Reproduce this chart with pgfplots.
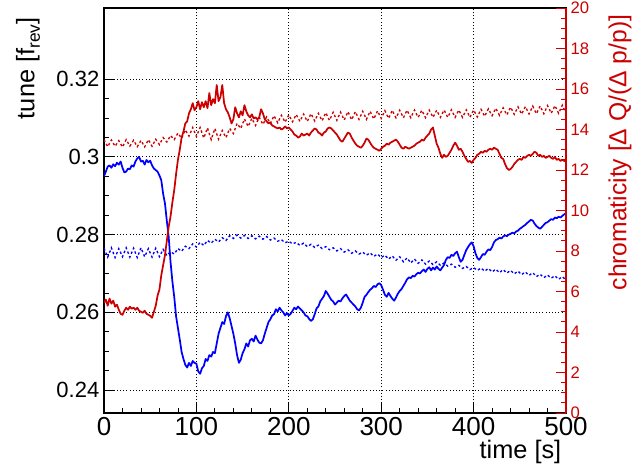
\documentclass[border=0pt]{standalone}
\usepackage{fontspec}
\setmainfont{Liberation Sans}
\usepackage{pgfplots}
\pgfplotsset{compat=1.18}
\definecolor{rootred}{RGB}{204,0,0}
\definecolor{rootblue}{RGB}{0,0,255}
\begin{document}
\begin{tikzpicture}
\begin{axis}[
  scale only axis, width=346.5pt, height=303.75pt,
  xmin=0, xmax=500, ymin=0.2341, ymax=0.3383,
  axis line style={line width=0.8pt},
  xtick={0,100,200,300,400,500}, minor x tick num=4,
  ytick={0.24,0.26,0.28,0.3,0.32}, minor y tick num=3,
  xtick pos=bottom, ytick pos=left,
  tick align=inside,
  major tick length=7.5pt, minor tick length=3.75pt,
  tick style={black, line width=0.6pt},
  scaled y ticks=false,
  /pgf/number format/assume math mode=true,
  yticklabel style={font=\fontsize{16.5}{18}\selectfont, /pgf/number format/fixed, /pgf/number format/precision=2},
  xticklabel style={font=\fontsize{19.5}{21}\selectfont},
  grid=major,
  major grid style={black, line width=0.6pt, dash pattern=on 0.8pt off 1.6pt},
  xlabel={time [s]},
  every axis x label/.style={at={(axis description cs:1,-0.113)}, anchor=base east, font=\fontsize{19}{21}\selectfont},
  ylabel={tune [f\raisebox{-0.4ex}{\fontsize{13}{13}\selectfont rev}]},
  every axis y label/.style={at={(axis description cs:-0.1645,0.988)}, anchor=east, rotate=90, font=\fontsize{19}{21}\selectfont},
]
% dotted tune
\addplot[rootblue, line width=1pt, dash pattern=on 1.8pt off 1.8pt] coordinates {
(0,0.2765)(4,0.2742)(8,0.2766)(12,0.2741)(16,0.2764)(20,0.2743)(24,0.2766)(28,0.2742)(32,0.2765)(36,0.2741)
(40,0.2766)(44,0.2743)(48,0.2764)(52,0.2742)(56,0.2765)(60,0.2743)(64,0.2762)(68,0.2746)(72,0.2756)(76,0.2750)
(80,0.2764)(84,0.2757)(88,0.2770)(92,0.2764)(96,0.2776)(100,0.2768)(104,0.2780)(108,0.2772)(112,0.2785)(116,0.2778)
(120,0.2788)(124,0.2781)(128,0.2792)(132,0.2785)(136,0.2797)(140,0.2790)(144,0.2799)(148,0.2791)(152,0.2798)(156,0.2790)
(160,0.2797)(164,0.2789)(168,0.2796)(172,0.2788)(176,0.2795)(180,0.2786)(184,0.2791)(188,0.2783)(192,0.2787)(196,0.2779)
(200,0.2783)(204,0.2776)(208,0.2780)(212,0.2772)(216,0.2778)(220,0.2769)(224,0.2775)(228,0.2767)(232,0.2773)(236,0.2764)
(240,0.2769)(244,0.2761)(248,0.2766)(252,0.2758)(256,0.2764)(260,0.2755)(264,0.2761)(268,0.2752)(272,0.2758)(276,0.2750)
(280,0.2755)(284,0.2747)(288,0.2753)(292,0.2744)(296,0.2750)(300,0.2741)(304,0.2747)(308,0.2737)(312,0.2745)(316,0.2734)
(320,0.2743)(324,0.2730)(328,0.2740)(332,0.2727)(336,0.2737)(340,0.2726)(344,0.2735)(348,0.2724)(352,0.2732)(356,0.2723)
(360,0.2730)(364,0.2721)(368,0.2727)(372,0.2719)(376,0.2724)(380,0.2716)(384,0.2721)(388,0.2713)(392,0.2718)(396,0.2710)
(400,0.2715)(404,0.2708)(408,0.2714)(412,0.2706)(416,0.2713)(420,0.2704)(424,0.2711)(428,0.2702)(432,0.2710)(436,0.2701)
(440,0.2708)(444,0.2699)(448,0.2706)(452,0.2697)(456,0.2704)(460,0.2695)(464,0.2702)(468,0.2692)(472,0.2698)(476,0.2689)
(480,0.2696)(484,0.2688)(488,0.2694)(492,0.2685)(496,0.2692)(500,0.2683)
};
% measured tune
\addplot[rootblue, line width=1.3pt, line join=round] coordinates {
(0,0.2950)(2,0.2962)(4,0.2975)(6,0.2978)(8,0.2972)(10,0.2981)(12,0.2976)(14,0.2985)(16,0.2980)(18,0.2988)
(20,0.2972)(22,0.2960)(24,0.2962)(26,0.2970)(28,0.2968)(30,0.2978)(32,0.2975)(34,0.2988)(36,0.2996)(38,0.3000)
(40,0.2988)(42,0.2990)(44,0.2980)(46,0.2992)(48,0.2986)(50,0.2990)(52,0.2978)(54,0.2970)(56,0.2966)(58,0.2962)
(60,0.2952)(62,0.2940)(64,0.2905)(66,0.2880)(68,0.2835)(70,0.2795)(72,0.2730)(74,0.2680)(76,0.2640)(78,0.2590)
(80,0.2560)(82,0.2530)(84,0.2498)(86,0.2480)(88,0.2465)(90,0.2458)(92,0.2470)(94,0.2462)(96,0.2475)(98,0.2470)
(100,0.2468)(102,0.2448)(104,0.2442)(106,0.2456)(108,0.2462)(110,0.2480)(112,0.2475)(114,0.2490)(116,0.2486)(118,0.2498)
(120,0.2495)(122,0.2520)(124,0.2545)(126,0.2560)(128,0.2575)(130,0.2570)(132,0.2590)(134,0.2600)(136,0.2585)(138,0.2565)
(140,0.2545)(142,0.2520)(144,0.2490)(146,0.2470)(148,0.2478)(150,0.2495)(152,0.2505)(154,0.2520)(156,0.2512)(158,0.2528)
(160,0.2532)(162,0.2525)(164,0.2540)(166,0.2530)(168,0.2522)(170,0.2520)(172,0.2528)(174,0.2545)(176,0.2560)(178,0.2575)
(180,0.2582)(182,0.2592)(184,0.2595)(186,0.2608)(188,0.2602)(190,0.2612)(192,0.2605)(194,0.2600)(196,0.2592)(198,0.2598)
(200,0.2592)(202,0.2596)(204,0.2604)(206,0.2612)(208,0.2608)(210,0.2615)(212,0.2610)(214,0.2605)(216,0.2600)(218,0.2592)
(220,0.2590)(222,0.2583)(224,0.2578)(226,0.2582)(228,0.2595)(230,0.2610)(232,0.2615)(234,0.2628)(236,0.2635)(238,0.2642)
(240,0.2655)(242,0.2648)(244,0.2640)(246,0.2632)(248,0.2628)(250,0.2620)(252,0.2625)(254,0.2630)(256,0.2628)(258,0.2636)
(260,0.2642)(262,0.2646)(264,0.2638)(266,0.2630)(268,0.2625)(270,0.2620)(272,0.2615)(274,0.2608)(276,0.2605)(278,0.2612)
(280,0.2625)(282,0.2640)(284,0.2645)(286,0.2652)(288,0.2658)(290,0.2662)(292,0.2668)(294,0.2665)(296,0.2672)(298,0.2675)
(300,0.2670)(302,0.2658)(304,0.2645)(306,0.2640)(308,0.2650)(310,0.2642)(312,0.2635)(314,0.2630)(316,0.2638)(318,0.2648)
(320,0.2655)(322,0.2660)(324,0.2668)(326,0.2676)(328,0.2685)(330,0.2690)(332,0.2688)(334,0.2694)(336,0.2692)(338,0.2698)
(340,0.2702)(342,0.2700)(344,0.2706)(346,0.2710)(348,0.2704)(350,0.2712)(352,0.2716)(354,0.2708)(356,0.2715)(358,0.2710)
(360,0.2718)(362,0.2712)(364,0.2708)(366,0.2715)(368,0.2722)(370,0.2735)(372,0.2742)(374,0.2740)(376,0.2748)(378,0.2745)
(380,0.2752)(382,0.2756)(384,0.2742)(386,0.2730)(388,0.2735)(390,0.2748)(392,0.2760)(394,0.2768)(396,0.2775)(398,0.2780)
(400,0.2770)(402,0.2752)(404,0.2740)(406,0.2735)(408,0.2742)(410,0.2750)(412,0.2748)(414,0.2756)(416,0.2762)(418,0.2760)
(420,0.2768)(422,0.2780)(424,0.2786)(426,0.2788)(428,0.2792)(430,0.2790)(432,0.2795)(434,0.2798)(436,0.2796)(438,0.2800)
(440,0.2802)(442,0.2805)(444,0.2803)(446,0.2808)(448,0.2810)(450,0.2815)(452,0.2818)(454,0.2822)(456,0.2825)(458,0.2830)
(460,0.2834)(462,0.2838)(464,0.2836)(466,0.2828)(468,0.2822)(470,0.2818)(472,0.2815)(474,0.2820)(476,0.2825)(478,0.2830)
(480,0.2832)(482,0.2836)(484,0.2840)(486,0.2838)(488,0.2844)(490,0.2842)(492,0.2846)(494,0.2844)(496,0.2848)(498,0.2852)
(500,0.2855)
};
\end{axis}
\begin{axis}[
  scale only axis, width=346.5pt, height=303.75pt,
  xmin=0, xmax=500, ymin=0, ymax=20,
  axis x line=none, axis y line*=right,
  y axis line style={rootred, line width=0.8pt},
  ytick={0,2,4,6,8,10,12,14,16,18,20}, minor y tick num=3,
  tick align=inside,
  major tick length=7.5pt, minor tick length=3.75pt,
  ytick style={rootred, line width=0.6pt},
  /pgf/number format/assume math mode=true,
  yticklabel style={rootred, font=\fontsize{12.5}{14}\selectfont},
  ylabel={chromaticity [Δ Q/(Δ p/p)]},
  every axis y label/.style={at={(axis description cs:1.117,0.995)}, anchor=east, rotate=90, rootred, font=\fontsize{18.5}{20}\selectfont},
]
% dotted chromaticity
\addplot[rootred, line width=1pt, dash pattern=on 1.8pt off 1.8pt] coordinates {
(0,13.5)(4,13.15)(8,13.48)(12,13.17)(16,13.45)(20,13.13)(24,13.5)(28,13.18)(32,13.47)(36,13.15)
(40,13.46)(44,13.14)(48,13.5)(52,13.17)(56,13.52)(60,13.25)(64,13.6)(68,13.38)(72,13.7)(76,13.5)
(80,13.82)(84,13.57)(88,13.98)(92,13.67)(96,14.1)(100,13.65)(104,14.1)(108,13.58)(112,14.08)(116,13.5)
(120,14.05)(124,13.52)(128,13.95)(132,13.6)(136,14.05)(140,13.8)(144,14.3)(148,14.05)(152,14.52)(156,14.15)
(160,14.55)(164,14.2)(168,14.6)(172,14.25)(176,14.62)(180,14.3)(184,14.68)(188,14.33)(192,14.7)(196,14.36)
(200,14.72)(204,14.38)(208,14.74)(212,14.4)(216,14.76)(220,14.4)(224,14.78)(228,14.42)(232,14.8)(236,14.43)
(240,14.83)(244,14.45)(248,14.85)(252,14.45)(256,14.86)(260,14.47)(264,14.88)(268,14.48)(272,14.88)(276,14.5)
(280,14.9)(284,14.5)(288,14.9)(292,14.52)(296,14.92)(300,14.55)(304,14.93)(308,14.55)(312,14.95)(316,14.57)
(320,14.95)(324,14.58)(328,14.95)(332,14.58)(336,14.96)(340,14.6)(344,14.95)(348,14.58)(352,14.96)(356,14.6)
(360,14.95)(364,14.6)(368,14.96)(372,14.6)(376,14.97)(380,14.6)(384,14.96)(388,14.6)(392,14.97)(396,14.6)
(400,14.96)(404,14.62)(408,15.0)(412,14.65)(416,15.02)(420,14.68)(424,15.05)(428,14.7)(432,15.07)(436,14.72)
(440,15.1)(444,14.75)(448,15.12)(452,14.76)(456,15.13)(460,14.77)(464,15.15)(468,14.78)(472,15.16)(476,14.78)
(480,15.18)(484,14.8)(488,15.18)(492,14.8)(496,15.2)(500,14.8)
};
% measured chromaticity
\addplot[rootred, line width=1.3pt, line join=round] coordinates {
(0,5.45)(2,5.6)(4,5.3)(6,5.65)(8,5.4)(10,5.55)(12,5.25)(14,5.35)(16,5.1)(18,4.9)
(20,4.85)(22,5.05)(24,5.2)(26,5.1)(28,5.25)(30,5.15)(32,5.2)(34,5.1)(36,5.2)(38,5.05)
(40,5.0)(42,4.95)(44,5.05)(46,4.9)(48,4.85)(50,4.8)(52,4.7)(54,5.0)(56,5.3)(58,5.8)
(60,6.1)(62,6.8)(64,7.3)(66,7.8)(68,8.5)(70,9.2)(72,9.7)(74,10.4)(76,11.0)(78,11.8)
(80,12.5)(82,13.0)(84,13.6)(86,13.9)(88,14.3)(90,14.4)(92,14.8)(94,15.0)(96,15.3)(98,14.95)
(100,15.1)(102,15.4)(104,15.0)(106,15.35)(108,15.1)(110,15.4)(112,15.05)(114,15.8)(116,15.2)(118,15.5)
(120,15.3)(122,16.2)(124,15.4)(126,15.6)(128,16.2)(130,15.3)(132,15.0)(134,14.85)(136,14.6)(138,14.3)
(140,14.5)(142,15.1)(144,14.8)(146,14.6)(148,14.9)(150,14.7)(152,15.2)(154,14.9)(156,14.7)(158,14.6)
(160,14.75)(162,14.55)(164,14.6)(166,14.5)(168,14.6)(170,15.0)(172,14.8)(174,14.5)(176,14.4)(178,14.3)
(180,14.35)(182,14.2)(184,14.15)(186,14.1)(188,14.05)(190,14.1)(192,14.0)(194,14.05)(196,14.15)(198,14.05)
(200,14.1)(202,14.0)(204,13.9)(206,13.75)(208,13.7)(210,13.6)(212,13.65)(214,13.8)(216,13.7)(218,13.75)
(220,13.8)(222,13.7)(224,13.85)(226,13.95)(228,14.05)(230,14.0)(232,13.85)(234,13.8)(236,13.7)(238,13.85)
(240,13.9)(242,14.05)(244,14.1)(246,14.05)(248,13.95)(250,13.85)(252,13.75)(254,13.6)(256,13.45)(258,13.4)
(260,13.55)(262,13.7)(264,13.85)(266,13.8)(268,13.6)(270,13.45)(272,13.3)(274,13.2)(276,13.15)(278,13.1)
(280,13.2)(282,13.35)(284,13.55)(286,13.5)(288,13.35)(290,13.2)(292,13.1)(294,13.05)(296,13.0)(298,12.95)
(300,13.05)(302,13.15)(304,13.2)(306,13.3)(308,13.25)(310,13.35)(312,13.4)(314,13.45)(316,13.5)(318,13.4)
(320,13.25)(322,13.1)(324,13.05)(326,13.15)(328,13.1)(330,13.05)(332,13.1)(334,13.15)(336,13.2)(338,13.3)
(340,13.35)(342,13.4)(344,13.5)(346,13.45)(348,13.6)(350,13.7)(352,13.8)(354,14.0)(356,14.1)(358,13.7)
(360,13.3)(362,13.1)(364,12.8)(366,12.6)(368,12.75)(370,12.65)(372,12.7)(374,12.85)(376,13.0)(378,13.2)
(380,13.35)(382,13.2)(384,13.0)(386,13.05)(388,12.9)(390,12.7)(392,12.55)(394,12.4)(396,12.45)(398,12.35)
(400,12.5)(402,12.6)(404,12.75)(406,12.8)(408,12.9)(410,12.85)(412,12.95)(414,12.9)(416,13.0)(418,13.05)
(420,13.0)(422,13.1)(424,13.05)(426,13.0)(428,12.8)(430,12.6)(432,12.55)(434,12.3)(436,12.1)(438,12.0)
(440,12.05)(442,12.15)(444,12.3)(446,12.4)(448,12.5)(450,12.55)(452,12.5)(454,12.65)(456,12.6)(458,12.7)
(460,12.75)(462,12.7)(464,12.8)(466,12.9)(468,12.85)(470,12.7)(472,12.75)(474,12.65)(476,12.7)(478,12.6)
(480,12.65)(482,12.7)(484,12.6)(486,12.55)(488,12.65)(490,12.5)(492,12.55)(494,12.45)(496,12.5)(498,12.45)
(500,12.45)
};
\end{axis}
\pgfresetboundingbox
\useasboundingbox ([shift={(-78pt,-38.25pt)}]current axis.south west) rectangle ([shift={(57.75pt,6pt)}]current axis.north east);
\end{tikzpicture}
\end{document}
